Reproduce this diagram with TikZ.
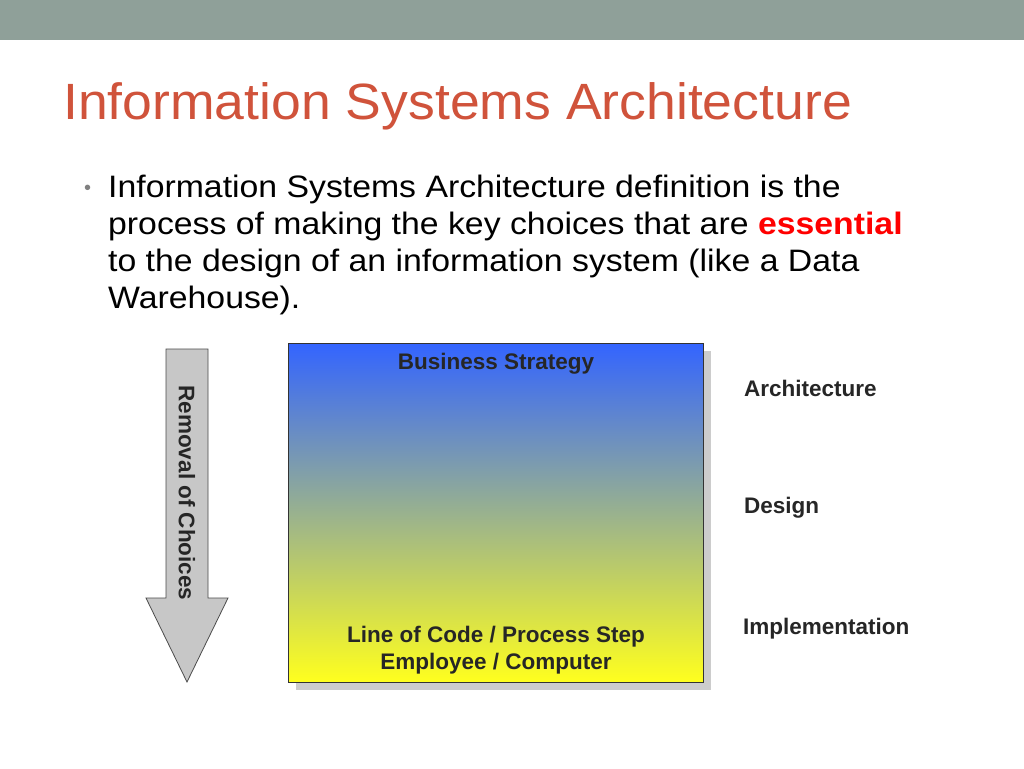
\documentclass[tikz,border=0pt]{standalone}
\usepackage{fontspec}
\setmainfont{Liberation Sans}
\begin{document}
\begin{tikzpicture}[x=1pt,y=-1pt,
 lbl/.style={font=\fontsize{22.5}{26}\selectfont\bfseries,text=black!85,inner sep=0pt},
 body/.style={font=\fontsize{31}{37}\selectfont\addfontfeature{FakeStretch=1.09},anchor=base west,inner sep=0pt}]
\useasboundingbox (0,0) rectangle (1024,768);
\fill[white] (0,0) rectangle (1024,768);
\fill[fill={rgb,255:red,143;green,160;blue,153}] (0,0) rectangle (1024,40);
\node[anchor=base west,inner sep=0pt,text={rgb,255:red,208;green,83;blue,59},font=\fontsize{51}{56}\selectfont] (title) at (63,119) {\addfontfeature{FakeStretch=1.05}Information Systems Architecture};
\node[anchor=base west,inner sep=0pt,text=black!50,font=\fontsize{20}{24}\selectfont] (bul) at (84,194) {•};
\node[body] (l1) at (108,197) {Information Systems Architecture definition is the};
\node[body] (l2) at (108,234) {process of making the key choices that are \textcolor{red}{\bfseries essential}};
\node[body] (l3) at (108,271) {to the design of an information system (like a Data};
\node[body] (l4) at (108,308) {Warehouse).};
% box
\fill[black!20] (296,351) rectangle (711,690);
\shade[top color={rgb,255:red,51;green,100;blue,255},middle color={rgb,255:red,190;green,198;blue,205},bottom color={rgb,255:red,255;green,255;blue,30}] (288,343) rectangle (703,682);
\draw[black!80,line width=0.8pt] (288,343) rectangle (703,682);
\node[lbl] (bs) at (496,364) {Business Strategy};
\node[lbl] (lc) at (496,637) {Line of Code / Process Step};
\node[lbl] (ec) at (496,664) {Employee / Computer};
% arrow
\draw[fill=black!22,draw=black!70,line width=0.8pt] (166,349) -- (208,349) -- (208,598) -- (228,598) -- (187,682) -- (146,598) -- (166,598) -- cycle;
\node[lbl,rotate=-90] (rc) at (187,493) {Removal of Choices};
\node[lbl,anchor=west] (ar) at (744,388) {Architecture};
\node[lbl,anchor=west] (de) at (744,508) {Design};
\node[lbl,anchor=west] (im) at (743,629) {Implementation};
\end{tikzpicture}
\end{document}
